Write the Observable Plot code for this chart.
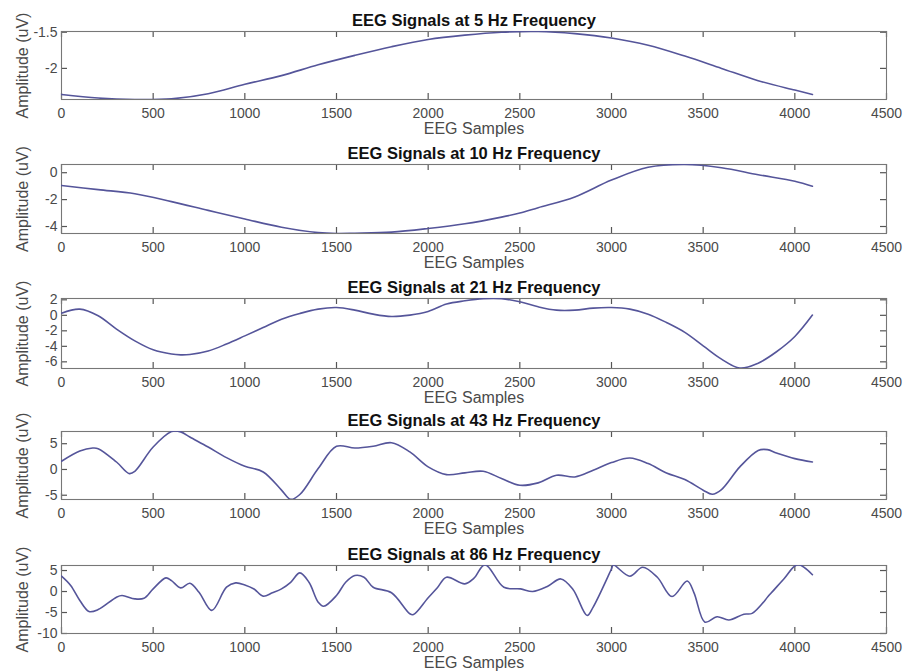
<!DOCTYPE html>
<html><head><meta charset="utf-8">
<script src="https://cdn.jsdelivr.net/npm/d3@7"></script>
<script src="https://cdn.jsdelivr.net/npm/@observablehq/plot@0.6"></script>
<style>
body{margin:0;background:#fff;overflow:hidden}
#chart{position:relative;width:905px;height:672px;font-family:"Liberation Sans",Arial,sans-serif}
#chart svg{position:absolute;left:0}
</style></head><body><div id="chart"></div>
<script>
// ---- data ----
const xTicks = [0, 500, 1000, 1500, 2000, 2500, 3000, 3500, 4000, 4500];
const xLabel = "EEG Samples";
const yLabel = "Amplitude (uV)";

const title5 = "EEG Signals at 5 Hz Frequency";
const s5 = [0,200,400,600,800,1000,1200,1400,1600,1800,2000,2200,2400,2600,2800,3000,3200,3400,3600,3800,4000,4096];
const a5 = [-2.36,-2.41,-2.43,-2.42,-2.35,-2.22,-2.10,-1.95,-1.82,-1.70,-1.60,-1.54,-1.50,-1.49,-1.52,-1.58,-1.68,-1.83,-2.00,-2.17,-2.30,-2.36];
const yTicks5 = [-2, -1.5];
const yDom5 = [-2.43, -1.49];

const title10 = "EEG Signals at 10 Hz Frequency";
const s10 = [0,200,400,600,800,1000,1200,1400,1500,1600,1800,2000,2200,2400,2500,2600,2800,3000,3200,3400,3600,3800,4000,4096];
const a10 = [-0.95,-1.26,-1.56,-2.15,-2.8,-3.44,-4.05,-4.45,-4.52,-4.5,-4.42,-4.15,-3.8,-3.3,-3.0,-2.6,-1.8,-0.55,0.4,0.61,0.37,-0.15,-0.63,-1.0];
const yTicks10 = [-4, -2, 0];
const yDom10 = [-4.52, 0.61];

const title21 = "EEG Signals at 21 Hz Frequency";
const s21 = [0,100,200,300,400,500,600,650,700,800,900,1000,1100,1200,1300,1400,1500,1600,1700,1800,1900,2000,2100,2200,2300,2400,2500,2600,2700,2800,2900,3000,3100,3200,3300,3400,3500,3600,3700,3800,3900,4000,4096];
const a21 = [0.28,0.8,-0.06,-1.78,-3.3,-4.45,-5.0,-5.1,-5.05,-4.6,-3.7,-2.65,-1.57,-0.5,0.24,0.8,1.0,0.67,0.15,-0.15,0.03,0.5,1.45,1.87,2.15,2.15,1.74,1.1,0.67,0.67,0.93,1.0,0.8,0.15,-0.93,-2.2,-3.93,-5.65,-6.8,-6.17,-4.7,-2.73,0.03];
const yTicks21 = [-6, -4, -2, 0, 2];
const yDom21 = [-6.86, 2.17];

const title43 = "EEG Signals at 43 Hz Frequency";
const s43 = [0,100,170,200,300,370,400,500,600,650,700,800,900,1000,1100,1200,1250,1300,1400,1500,1600,1700,1800,1900,2000,2100,2200,2300,2400,2500,2600,2700,2800,2900,3000,3100,3200,3300,3400,3500,3550,3600,3700,3800,3850,3900,4000,4096];
const a43 = [1.59,3.58,4.16,4.04,1.45,-0.8,-0.35,4.35,7.35,7.3,6.3,4.35,2.3,0.62,-0.48,-4.0,-5.8,-4.86,0.17,4.5,4.16,4.5,5.2,3.4,0.5,-1.0,-0.67,-0.35,-1.76,-3.06,-2.6,-1.12,-1.45,-0.15,1.33,2.22,1.14,-0.67,-1.95,-4.02,-4.8,-3.9,0.5,3.7,3.85,3.2,2.1,1.45];
const yTicks43 = [-5, 0, 5];
const yDom43 = [-5.83, 7.37];

const title86 = "EEG Signals at 86 Hz Frequency";
const s86 = [0,50,100,150,200,300,330,400,450,500,570,600,650,700,750,820,900,950,1000,1050,1100,1150,1200,1250,1300,1350,1400,1430,1500,1550,1600,1650,1700,1800,1900,1920,2000,2050,2100,2200,2250,2310,2413,2504,2570,2650,2724,2790,2867,2900,3000,3010,3100,3170,3250,3330,3413,3450,3510,3576,3640,3722,3767,3867,3940,4015,4096];
const a86 = [3.65,1.43,-2.14,-4.76,-4.3,-1.35,-0.95,-1.75,-1.6,0.63,3.25,2.6,0.87,1.98,-0.16,-4.5,1.03,2.06,1.58,0.6,-1.1,-0.3,0.64,2.2,4.44,2.2,-2.54,-3.5,-0.95,2.2,3.8,3.4,1.03,-0.3,-5.3,-5.5,-1.5,0.9,3.4,1.83,3.17,6.4,1.0,0.63,0.0,1.2,3.0,0.5,-5.7,-3.7,5.4,6.3,3.65,5.8,3.4,-1.2,2.5,-0.3,-7.3,-6.0,-6.8,-5.4,-5.2,-0.55,3.0,6.4,4.0];
const yTicks86 = [-10, -5, 0, 5];
const yDom86 = [-10, 6.2];

// ---- layout ----
const panels = [
  {title: title5,  s: s5,  a: a5,  ticks: yTicks5,  dom: yDom5,  top: 31,  h: 68},
  {title: title10, s: s10, a: a10, ticks: yTicks10, dom: yDom10, top: 164, h: 69},
  {title: title21, s: s21, a: a21, ticks: yTicks21, dom: yDom21, top: 298, h: 70},
  {title: title43, s: s43, a: a43, ticks: yTicks43, dom: yDom43, top: 431, h: 68},
  {title: title86, s: s86, a: a86, ticks: yTicks86, dom: yDom86, top: 565, h: 68}
];

const chart = document.getElementById("chart");
const mTop = 30, mBot = 40, mLeft = 61, mRight = 19, W = 905;
const plotW = W - mLeft - mRight;
const fmt = d => String(d);
const tickLen = 6;
const tickColor = "#555555";

for (const p of panels) {
  const data = p.s.map((x, i) => ({x, y: p.a[i]}));
  const svg = Plot.plot({
    width: W,
    height: mTop + p.h + mBot,
    marginLeft: mLeft, marginRight: mRight, marginTop: mTop, marginBottom: mBot,
    x: {domain: [0, 4500]},
    y: {domain: p.dom},
    style: {fontFamily: '"Liberation Sans", Arial, sans-serif', fontSize: "14px", background: "transparent", overflow: "visible", color: "#4a4a4a"},
    marks: [
      Plot.axisX({anchor: "bottom", ticks: xTicks, tickSize: 0, tickPadding: 9, tickFormat: fmt, label: null}),
      Plot.axisY({anchor: "left", ticks: p.ticks, tickSize: 0, tickPadding: 4, tickFormat: fmt, label: null}),
      // inward ticks on all four sides (MATLAB box style)
      Plot.tickX(xTicks, {x: d => d, insetTop: p.h - tickLen, stroke: tickColor, strokeWidth: 1.2}),
      Plot.tickX(xTicks, {x: d => d, insetBottom: p.h - tickLen, stroke: tickColor, strokeWidth: 1.2}),
      Plot.tickY(p.ticks, {y: d => d, insetRight: plotW - tickLen, stroke: tickColor, strokeWidth: 1.2}),
      Plot.tickY(p.ticks, {y: d => d, insetLeft: plotW - tickLen, stroke: tickColor, strokeWidth: 1.2}),
      Plot.frame({stroke: "#777777", strokeWidth: 1.1}),
      Plot.line(data, {x: "x", y: "y", stroke: "#55559a", strokeWidth: 1.6, curve: "catmull-rom", clip: true}),
      Plot.text([p.title], {frameAnchor: "top", dy: -11, lineAnchor: "middle", fontSize: 16.5, fontWeight: "bold", fill: "#111"}),
      Plot.text([xLabel], {frameAnchor: "bottom", dy: 29, lineAnchor: "middle", fontSize: 16, fill: "#4a4a4a"}),
      Plot.text([yLabel], {frameAnchor: "left", dx: -39, rotate: -90, lineAnchor: "middle", textAnchor: "middle", fontSize: 16, fill: "#4a4a4a"})
    ]
  });
  svg.style.top = (p.top - mTop) + "px";
  chart.appendChild(svg);
}
</script></body></html>
